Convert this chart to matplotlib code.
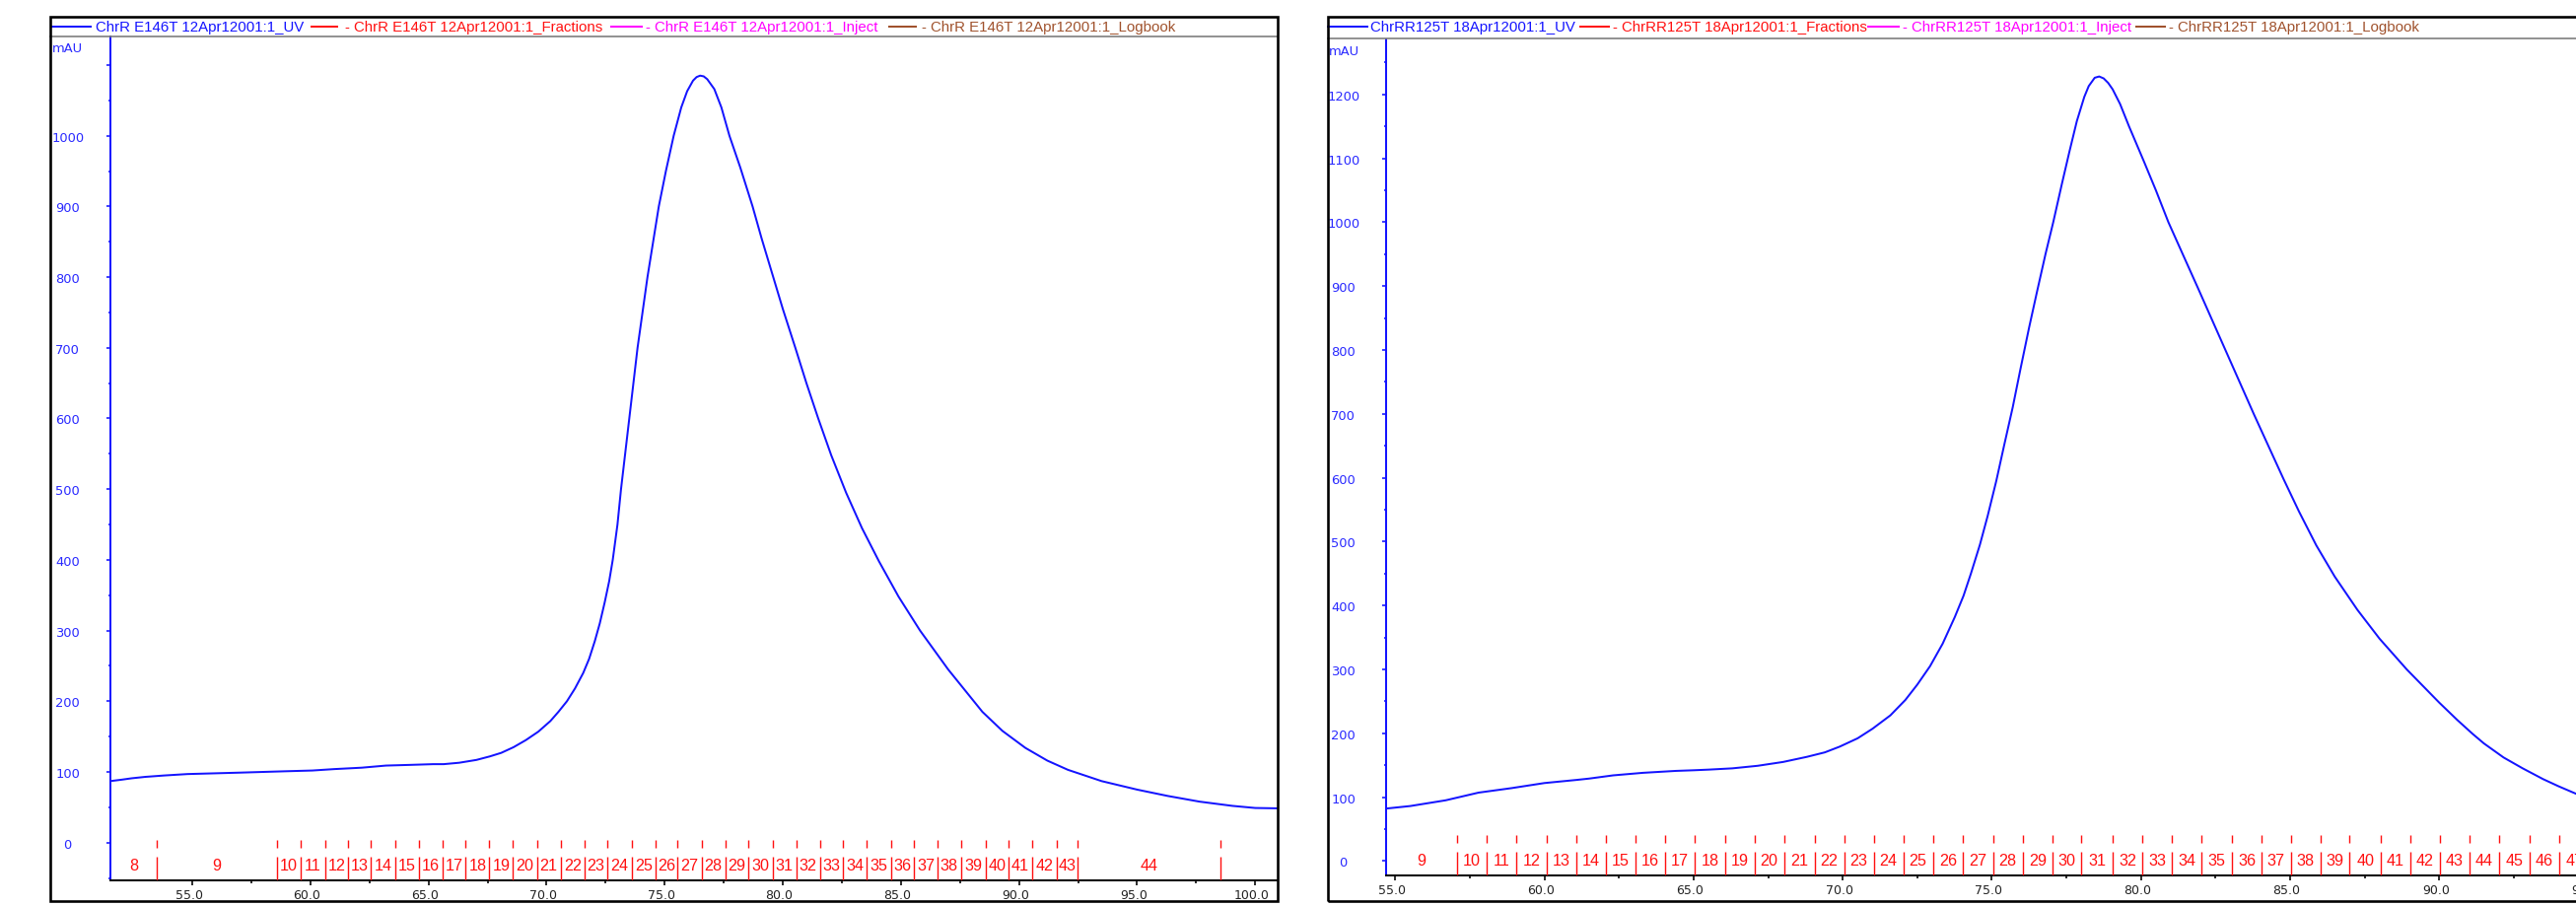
import matplotlib
matplotlib.use("Agg")
import matplotlib.pyplot as plt
from matplotlib import font_manager
from matplotlib.font_manager import FontProperties
from matplotlib.transforms import ScaledTranslation
from matplotlib.lines import Line2D
from matplotlib.patches import Rectangle
from matplotlib.ticker import FixedLocator, MultipleLocator

# ---------------- data ----------------
left_time = [51.52, 52.0, 52.43, 53.0, 53.82, 54.8, 55.9, 57.0, 57.99, 59.0, 60.08, 61.0,
             62.17, 63.2, 64.25, 65.2, 65.64, 66.3, 67.03, 67.6, 68.08, 68.6, 69.12, 69.65,
             70.16, 70.5, 70.86, 71.2, 71.55, 71.8, 72.04, 72.25, 72.46, 72.65, 72.8, 73.0,
             73.15, 73.5, 73.85, 74.27, 74.75, 75.05, 75.38, 75.7, 75.95, 76.2, 76.35, 76.5,
             76.65, 76.8, 77.1, 77.4, 77.74, 78.2, 78.72, 79.1, 79.55, 80.0, 80.53, 81.0,
             81.5, 82.05, 82.68, 83.35, 84.07, 84.9, 85.81, 87.0, 88.45, 89.3, 90.27, 91.2,
             92.07, 93.5, 95.0, 96.3, 97.64, 99.03, 100.0, 100.95]
left_uv = [87, 89, 91, 93, 95, 97, 98, 99, 100, 101, 102, 104,
           106, 109, 110, 111, 111, 113, 117, 122, 127, 135, 145, 157,
           172, 185, 200, 218, 240, 260, 285, 310, 340, 370, 400, 450,
           500, 600, 700, 800, 900, 950, 1000, 1040, 1063, 1078, 1083, 1085,
           1084, 1080, 1066, 1040, 1000, 955, 900, 855, 805, 755, 700, 650,
           600, 548, 495, 445, 398, 348, 300, 245, 185, 158, 134, 116,
           103, 87, 75, 66, 58, 52, 49, 48.5]

left_frac_bounds = [53.5, 58.57, 59.59, 60.62, 61.59, 62.57, 63.6, 64.6, 65.59, 66.57,
                    67.58, 68.57, 69.59, 70.6, 71.61, 72.58, 73.6, 74.6, 75.55, 76.56,
                    77.56, 78.55, 79.56, 80.57, 81.57, 82.54, 83.55, 84.58, 85.55, 86.55,
                    87.55, 88.58, 89.55, 90.57, 91.6, 92.49, 98.51]
left_frac_labels = ["8", "9", "10", "11", "12", "13", "14", "15", "16", "17", "18", "19",
                    "20", "21", "22", "23", "24", "25", "26", "27", "28", "29", "30", "31",
                    "32", "33", "34", "35", "36", "37", "38", "39", "40", "41", "42", "43", "44"]

right_time = [54.68, 55.5, 56.69, 57.79, 58.89, 60.0, 61.1, 61.5, 62.3, 63.3, 64.4, 65.0,
              65.5, 66.3, 67.15, 68.0, 68.8, 69.4, 69.9, 70.5, 71.0, 71.6, 72.1, 72.5,
              72.93, 73.35, 73.76, 74.05, 74.3, 74.6, 74.86, 75.15, 75.41, 75.7, 75.96, 76.25,
              76.51, 76.8, 77.06, 77.35, 77.6, 77.85, 78.1, 78.25, 78.45, 78.6, 78.75, 78.9,
              79.05, 79.3, 79.6, 80.1, 80.5, 80.92, 81.4, 81.91, 82.85, 83.79, 84.78, 85.3,
              85.88, 86.5, 87.26, 88.0, 88.91, 90.0, 90.6, 91.12, 91.5, 92.16, 92.8, 93.49,
              94.0, 94.6, 95.48]
right_uv = [82, 86, 95, 107, 114, 122, 127, 129, 134, 138, 141, 142,
            143, 145, 149, 155, 163, 170, 179, 192, 207, 228, 252, 276,
            305, 340, 382, 415, 450, 495, 540, 595, 650, 710, 770, 835,
            890, 950, 1000, 1060, 1110, 1158, 1196, 1213, 1226, 1228, 1225, 1218,
            1208, 1185, 1150, 1095, 1050, 1000, 950, 897, 798, 699, 598, 547,
            494, 445, 393, 348, 300, 248, 221, 199, 184, 162, 145, 128,
            117, 105, 91]

right_frac_bounds = [57.07, 58.06, 59.05, 60.07, 61.07, 62.06, 63.04, 64.03, 65.05, 66.05,
                     67.04, 68.03, 69.06, 70.05, 71.04, 72.03, 73.02, 74.04, 75.04, 76.04,
                     77.03, 78.01, 79.05, 80.04, 81.04, 82.02, 83.05, 84.05, 85.02, 86.01,
                     87.0, 88.05, 89.02, 90.02, 91.01, 92.01, 93.03, 94.04, 95.04]
right_frac_labels = ["9", "10", "11", "12", "13", "14", "15", "16", "17", "18", "19", "20",
                     "21", "22", "23", "24", "25", "26", "27", "28", "29", "30", "31", "32",
                     "33", "34", "35", "36", "37", "38", "39", "40", "41", "42", "43", "44",
                     "45", "46", "47"]

left_legend = ["ChrR E146T 12Apr12001:1_UV", "- ChrR E146T 12Apr12001:1_Fractions",
               "- ChrR E146T 12Apr12001:1_Inject", "- ChrR E146T 12Apr12001:1_Logbook"]
right_legend = ["ChrRR125T 18Apr12001:1_UV", "- ChrRR125T 18Apr12001:1_Fractions",
                "- ChrRR125T 18Apr12001:1_Inject", "- ChrRR125T 18Apr12001:1_Logbook"]

left_yticks = [0, 100, 200, 300, 400, 500, 600, 700, 800, 900, 1000, 1100]
left_ytick_labels = ["0", "100", "200", "300", "400", "500", "600", "700", "800", "900", "1000", ""]
right_yticks = [0, 100, 200, 300, 400, 500, 600, 700, 800, 900, 1000, 1100, 1200]
right_ytick_labels = ["0", "100", "200", "300", "400", "500", "600", "700", "800", "900",
                      "1000", "1100", "1200"]
left_xticks = [55, 60, 65, 70, 75, 80, 85, 90, 95, 100]
left_xtick_labels = ["55.0", "60.0", "65.0", "70.0", "75.0", "80.0", "85.0", "90.0", "95.0", "100.0"]
left_xminor = [57.5, 62.5, 67.5, 72.5, 77.5, 82.5, 87.5, 92.5, 97.5]
right_xticks = [55, 60, 65, 70, 75, 80, 85, 90, 95]
right_xtick_labels = ["55.0", "60.0", "65.0", "70.0", "75.0", "80.0", "85.0", "90.0", "95.0"]
right_xminor = [57.5, 62.5, 67.5, 72.5, 77.5, 82.5, 87.5, 92.5]

# ---------------- style ----------------
W, H, DPI = 2613, 920, 100
BLUE = "#1414ff"
LBLUE = "#2a2aff"
RED = "#ff1010"
MAGENTA = "#ff00ff"
BROWN = "#a0522d"
legend_colors = [BLUE, RED, MAGENTA, BROWN]


def pick(cands):
    for c in cands:
        try:
            font_manager.findfont(FontProperties(family=c), fallback_to_default=False)
            return c
        except Exception:
            continue
    return "DejaVu Sans"


narrow = pick(["Liberation Sans Narrow", "Arial Narrow", "Liberation Sans"])
frac_size = 12.7 if narrow in ("Liberation Sans Narrow", "Arial Narrow") else 11.6
LEG_FONT = "Liberation Sans"
TICK_FONT = "DejaVu Sans"
TICK_SIZE = 9.4

fig = plt.figure(figsize=(W / DPI, H / DPI), dpi=DPI)
fig.patch.set_facecolor("white")


def fx(px):
    return px / W


def fy(py):
    return 1 - py / H


def pt(px):
    return px * 72.0 / DPI


def panel(frame_x0, frame_x1, band_y, ax_x0, ax_x1, ax_top, ax_bot, xlim, ylim,
          t, uv, bounds, flabels, yticks, ylabels, xticks, xlabels, xminor,
          legend, legend_pos, mau_pos):
    # outer frame
    fig.add_artist(Rectangle((fx(frame_x0), fy(915)), (frame_x1 - frame_x0) / W, (915 - 17.7) / H,
                             transform=fig.transFigure, fill=False, ec="black", lw=pt(2.6),
                             zorder=10))
    # legend band separator
    fig.add_artist(Line2D([fx(frame_x0), fx(frame_x1)], [fy(band_y), fy(band_y)],
                          transform=fig.transFigure, color="#7a7a7a", lw=pt(1.6), zorder=9))
    # legend entries
    for (l0, l1, tx), text, col in zip(legend_pos, legend, legend_colors):
        fig.add_artist(Line2D([fx(l0), fx(l1)], [fy(27.5), fy(27.5)], transform=fig.transFigure,
                              color=col, lw=pt(2.0)))
        fig.text(fx(tx), fy(32.3), text, color=col, fontsize=pt(15), family=LEG_FONT,
                 ha="left", va="baseline")
    # mAU label
    fig.text(fx(mau_pos[0]), fy(mau_pos[1]), "mAU", color=LBLUE, fontsize=TICK_SIZE,
             family=TICK_FONT, ha="left", va="baseline")

    ax = fig.add_axes([fx(ax_x0), fy(ax_bot), (ax_x1 - ax_x0) / W, (ax_bot - ax_top) / H])
    ax.set_facecolor("none")
    ax_h = ax_bot - ax_top
    for s in ("top", "right"):
        ax.spines[s].set_visible(False)
    ax.spines["left"].set_color(BLUE)
    ax.spines["left"].set_linewidth(pt(2.0))
    ax.spines["bottom"].set_color("black")
    ax.spines["bottom"].set_linewidth(pt(2.0))

    # UV curve
    ax.plot(t, uv, color=BLUE, lw=pt(2.0), zorder=5, solid_joinstyle="round")

    # fraction marks
    tr = ax.get_xaxis_transform()
    ax.vlines(bounds, 0, 24 / ax_h, transform=tr, colors=RED, lw=pt(1.4), zorder=3)
    ax.vlines(bounds, 33.5 / ax_h, 41.5 / ax_h, transform=tr, colors=RED, lw=pt(1.4), zorder=3)
    starts = [xlim[0]] + list(bounds[:-1])
    for s, e, lab in zip(starts, bounds, flabels):
        ax.text((s + e) / 2, 11.0 / ax_h, lab, transform=tr, ha="center", va="baseline",
                color=RED, fontsize=frac_size, family=narrow, clip_on=True, zorder=4)

    ax.set_xlim(*xlim)
    ax.set_ylim(*ylim)

    ax.set_yticks(yticks)
    ax.set_yticklabels(ylabels, ha="center")
    ax.yaxis.set_minor_locator(MultipleLocator(50))
    ax.set_xticks(xticks)
    ax.set_xticklabels(xlabels)
    ax.xaxis.set_minor_locator(FixedLocator(xminor))

    ax.tick_params(axis="y", which="major", direction="out", length=pt(4.5), width=pt(1.6),
                   color=BLUE, labelcolor=LBLUE, labelsize=TICK_SIZE, pad=pt(43 - 4.5))
    ax.tick_params(axis="y", which="minor", direction="out", length=pt(2.5), width=pt(1.6),
                   color=BLUE)
    ax.tick_params(axis="x", which="major", direction="out", length=pt(4.5), width=pt(1.6),
                   color="black", labelcolor="#222222", labelsize=9, pad=pt(3.5))
    ax.tick_params(axis="x", which="minor", direction="out", length=pt(3.0), width=pt(1.6),
                   color="black")
    for lbl in ax.get_yticklabels() + ax.get_xticklabels():
        lbl.set_family(TICK_FONT)
    off = ScaledTranslation(-3.5 / DPI, 0, fig.dpi_scale_trans)
    for lbl in ax.get_xticklabels():
        lbl.set_transform(lbl.get_transform() + off)
    return ax


# left panel
panel(51, 1296, 37.7, 111.7, 1296, 38, 894, (51.52, 100.95), (-53.4, 1140.4),
      left_time, left_uv, left_frac_bounds, left_frac_labels,
      left_yticks, left_ytick_labels, left_xticks, left_xtick_labels, left_xminor,
      left_legend, [(51.7, 91.7, 97), (315.7, 341.7, 350), (620, 651, 655), (902, 929, 935)],
      (52.7, 53.3))

# right panel (cut off at image edge)
panel(1346.7, 2700, 40, 1405.7, 2640, 41, 889.3, (54.68, 95.48), (-23.1, 1286),
      right_time, right_uv, right_frac_bounds, right_frac_labels,
      right_yticks, right_ytick_labels, right_xticks, right_xtick_labels, right_xminor,
      right_legend, [(1346.7, 1387, 1389.5), (1603, 1632, 1636), (1895, 1926, 1930),
                     (2167, 2195.5, 2199.7)],
      (1348, 56))

fig.savefig("out.png", dpi=DPI, facecolor="white")
